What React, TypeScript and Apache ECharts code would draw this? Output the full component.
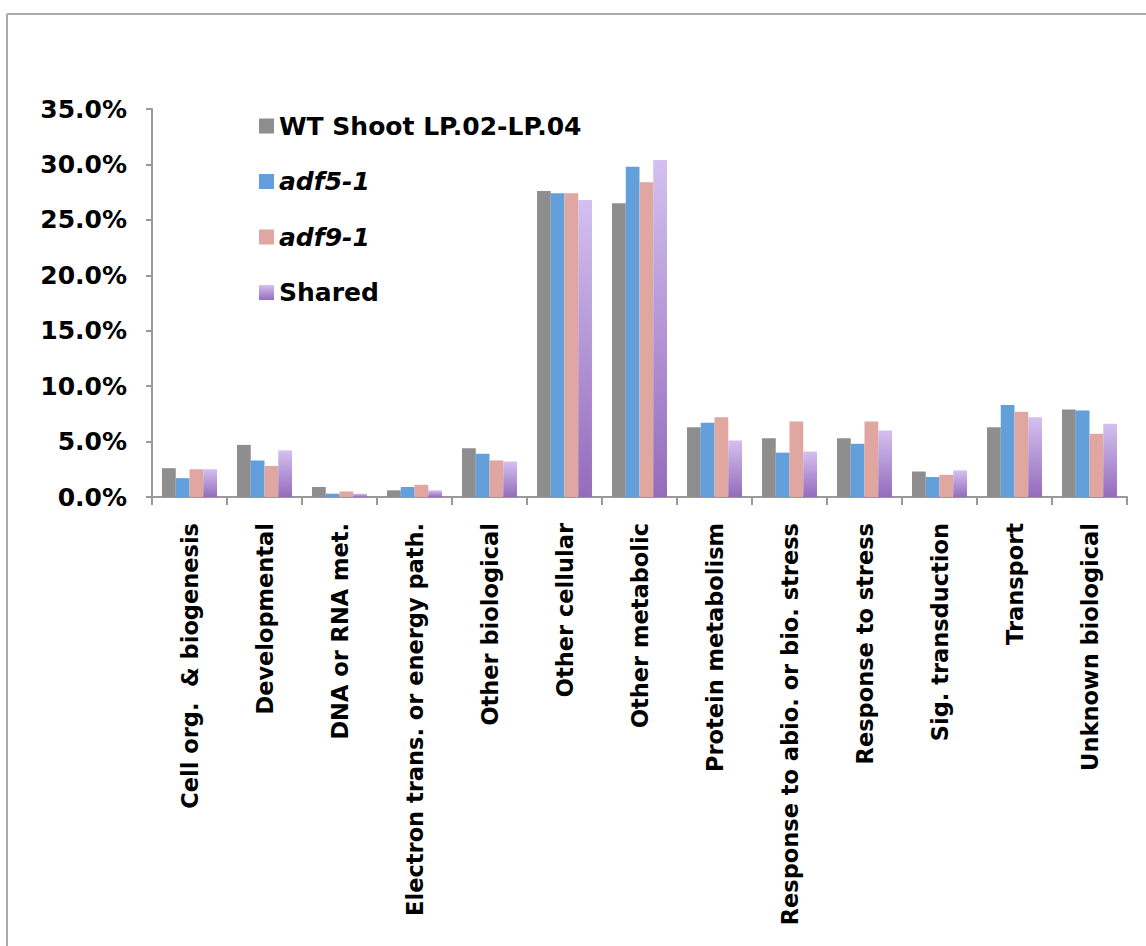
import React, { useEffect, useRef } from "react";
import * as echarts from "echarts";

const categories = [
  "Cell org.  & biogenesis",
  "Developmental",
  "DNA or RNA met.",
  "Electron trans. or energy path.",
  "Other biological",
  "Other cellular",
  "Other metabolic",
  "Protein metabolism",
  "Response to abio. or bio. stress",
  "Response to stress",
  "Sig. transduction",
  "Transport",
  "Unknown biological",
];
const seriesNames = ["WT Shoot LP.02-LP.04", "adf5-1", "adf9-1", "Shared"];
const wtValues = [2.6, 4.7, 0.9, 0.6, 4.4, 27.6, 26.5, 6.3, 5.3, 5.3, 2.3, 6.3, 7.9];
const adf5Values = [1.7, 3.3, 0.3, 0.9, 3.9, 27.4, 29.8, 6.7, 4.0, 4.8, 1.8, 8.3, 7.8];
const adf9Values = [2.5, 2.8, 0.5, 1.1, 3.3, 27.4, 28.4, 7.2, 6.8, 6.8, 2.0, 7.7, 5.7];
const sharedValues = [2.5, 4.2, 0.3, 0.6, 3.2, 26.8, 30.4, 5.1, 4.1, 6.0, 2.4, 7.2, 6.6];

const FONT = "'DejaVu Sans', sans-serif";

export default function App() {
  const ref = useRef<HTMLDivElement>(null);
  useEffect(() => {
    document.body.style.margin = "0";
    if (!ref.current) return;
    const chart = echarts.init(ref.current, undefined, { renderer: "svg" });
    const purple = new echarts.graphic.LinearGradient(0, 0, 0, 1, [
      { offset: 0, color: "#d4c0f0" },
      { offset: 1, color: "#946cbb" },
    ]);
    const colors: any[] = ["#8e8e8e", "#629fdb", "#e0a6a0", purple];
    const values = [wtValues, adf5Values, adf9Values, sharedValues];
    chart.setOption({
      animation: false,
      backgroundColor: "#ffffff",
      graphic: [
        { type: "line", shape: { x1: 7, y1: 14, x2: 1146, y2: 14 }, style: { stroke: "#aaaaaa", lineWidth: 2 } },
        { type: "line", shape: { x1: 7, y1: 14, x2: 7, y2: 946 }, style: { stroke: "#aaaaaa", lineWidth: 2 } },
      ],
      grid: { left: 152, top: 109, right: 19, bottom: 449, containLabel: false },
      legend: {
        orient: "vertical",
        left: 259,
        top: 113,
        padding: 0,
        itemWidth: 15,
        itemHeight: 15,
        itemGap: 29.5,
        icon: "rect",
        data: seriesNames,
        formatter: (name: string) =>
          name === "adf5-1" || name === "adf9-1" ? `{i|${name}}` : `{b|${name}}`,
        textStyle: {
          fontFamily: FONT,
          fontSize: 25,
          fontWeight: "bold",
          color: "#000",
          lineHeight: 26,
          rich: {
            i: { fontFamily: FONT, fontSize: 25, fontWeight: "bold", fontStyle: "italic", color: "#000", lineHeight: 26 },
            b: { fontFamily: FONT, fontSize: 25, fontWeight: "bold", color: "#000", lineHeight: 26 },
          },
        },
      },
      xAxis: {
        type: "category",
        data: categories,
        axisLine: { lineStyle: { color: "#999999", width: 2 } },
        axisTick: { show: true, alignWithLabel: false, interval: 0, length: 8, lineStyle: { color: "#999999", width: 2 } },
        axisLabel: {
          interval: 0,
          rotate: 90,
          margin: 26,
          fontFamily: FONT,
          fontSize: 22.5,
          fontWeight: "bold",
          color: "#000",
        },
        splitLine: { show: false },
      },
      yAxis: {
        type: "value",
        min: 0,
        max: 35,
        interval: 5,
        axisLine: { show: true, lineStyle: { color: "#999999", width: 2 } },
        axisTick: { show: true, length: 6, lineStyle: { color: "#999999", width: 2 } },
        splitLine: { show: false },
        axisLabel: {
          margin: 25,
          fontFamily: FONT,
          fontSize: 25,
          fontWeight: "bold",
          color: "#000",
          formatter: (v: number) => v.toFixed(1) + "%",
        },
      },
      series: seriesNames.map((name, i) => ({
        name,
        type: "bar",
        data: values[i],
        barGap: "0%",
        barCategoryGap: "26.7%",
        itemStyle: { color: colors[i] },
      })),
    });
    return () => chart.dispose();
  }, []);
  return <div ref={ref} style={{ width: 1146, height: 946 }} />;
}
